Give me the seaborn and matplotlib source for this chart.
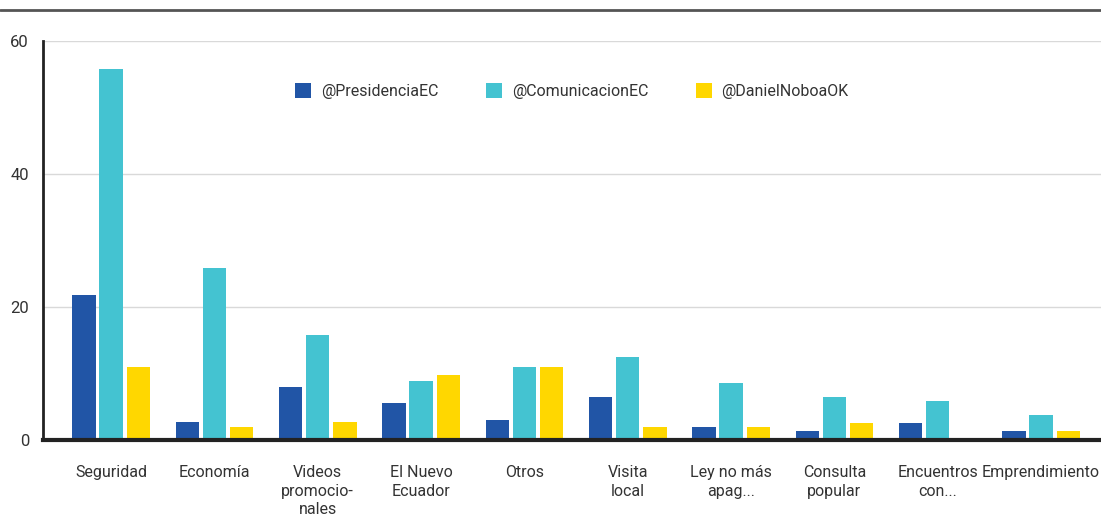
import matplotlib
matplotlib.use("Agg")
import matplotlib.pyplot as plt
from matplotlib.lines import Line2D
import pandas as pd
import seaborn as sns

categories = [
    "Seguridad", "Economía", "Videos\npromocio-\nnales", "El Nuevo\nEcuador", "Otros",
    "Visita\nlocal", "Ley no más\napag...", "Consulta\npopular", "Encuentros\ncon...",
    "Emprendimiento",
]
presidencia = [21.8, 2.7, 8.0, 5.6, 3.0, 6.5, 1.9, 1.4, 2.6, 1.4]
comunicacion = [55.8, 25.9, 15.8, 8.8, 10.9, 12.5, 8.6, 6.5, 5.8, 3.8]
noboa = [11.0, 2.0, 2.7, 9.7, 10.9, 1.9, 1.9, 2.6, 0.0, 1.4]
series_names = ["@PresidenciaEC", "@ComunicacionEC", "@DanielNoboaOK"]
colors = ["#2155A6", "#44C3D1", "#FFD700"]
y_ticks = [0, 20, 40, 60]

rows = []
for name, vals in zip(series_names, [presidencia, comunicacion, noboa]):
    for cat, v in zip(categories, vals):
        rows.append({"cat": cat, "cuenta": name, "valor": v})
df = pd.DataFrame(rows)

sns.set_theme(style="white")
plt.rcParams["font.family"] = ["Roboto", "DejaVu Sans"]

fig = plt.figure(figsize=(11.01, 5.2), dpi=100)
ax = fig.add_axes([0.039, 0.154, 0.961, 0.767])

sns.barplot(data=df, x="cat", y="valor", hue="cuenta", order=categories,
            hue_order=series_names, palette=colors, width=0.79, gap=0.14,
            saturation=1, linewidth=0, ax=ax, legend=True)

ax.set_ylim(0, 60)
ax.set_xlim(-0.66, 9.58)
ax.set_yticks(y_ticks)
ax.set_yticklabels([str(t) for t in y_ticks], fontsize=12, color="#333333")
ax.tick_params(axis="both", length=0)
ax.tick_params(axis="x", pad=18, labelsize=11.5, labelcolor="#333333")
for lbl in ax.get_xticklabels():
    lbl.set_linespacing(1.3)
ax.tick_params(axis="y", pad=10)
ax.set_xlabel("")
ax.set_ylabel("")
ax.yaxis.grid(True, color="#d9d9d9", linewidth=1)
ax.set_axisbelow(True)

for s in ["top", "right"]:
    ax.spines[s].set_visible(False)
ax.spines["left"].set_color("#222222")
ax.spines["left"].set_linewidth(2)
ax.spines["bottom"].set_color("#222222")
ax.spines["bottom"].set_linewidth(3)

handles, labels = ax.get_legend_handles_labels()
ax.legend(handles, labels, loc="upper center", bbox_to_anchor=(0.5, 0.93), ncol=3,
          frameon=False, fontsize=11.5, handlelength=1.0, handleheight=1.0,
          columnspacing=3.0, handletextpad=0.6, labelcolor="#333333")

fig.add_artist(Line2D([0, 1], [1 - 10 / 520, 1 - 10 / 520], transform=fig.transFigure,
                      color="#555555", linewidth=2))

fig.savefig("out.png", dpi=100)
